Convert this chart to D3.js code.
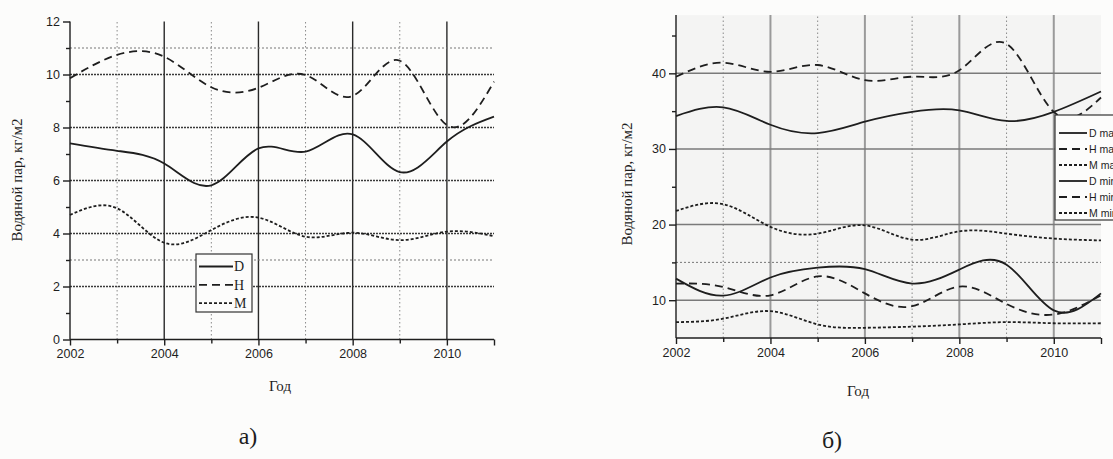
<!DOCTYPE html>
<html><head><meta charset="utf-8">
<script src="https://cdn.jsdelivr.net/npm/d3@7"></script>
<style>
html,body{margin:0;padding:0;background:#fcfcfb;}
svg{display:block;}
</style></head>
<body>
<svg id="chart" width="1113" height="459"></svg>
<script>
// ---------- data ----------
const years = [2002, 2003, 2004, 2005, 2006, 2007, 2008, 2009, 2010, 2011];
const xTickLabels = [2002, 2004, 2006, 2008, 2010];

// chart (a)
const aD = [7.40, 7.12, 6.64, 5.82, 7.21, 7.09, 7.74, 6.32, 7.47, 8.41];
const aH = [9.86, 10.74, 10.67, 9.52, 9.50, 9.98, 9.19, 10.52, 8.09, 9.73];
const aM = [4.70, 4.95, 3.65, 4.13, 4.60, 3.88, 4.03, 3.75, 4.07, 3.90];
const aYTicks = [0, 2, 4, 6, 8, 10, 12];
const aLegend = ["D", "H", "M"];

// chart (б)
const bDmax = [34.35, 35.5, 33.2, 32.1, 33.6, 34.9, 35.1, 33.7, 34.9, 37.6];
const bHmax = [39.55, 41.4, 40.2, 41.1, 39.1, 39.55, 40.4, 43.9, 34.9, 36.8];
const bMmax = [21.8, 22.7, 19.7, 18.8, 19.9, 18.0, 19.1, 18.8, 18.15, 17.9];
const bDmin = [12.85, 10.6, 13.0, 14.3, 14.1, 12.2, 14.05, 14.7, 8.65, 10.9];
const bHmin = [12.2, 11.75, 10.65, 13.15, 10.9, 9.2, 11.8, 9.5, 8.1, 10.65];
const bMmin = [7.1, 7.55, 8.55, 6.8, 6.35, 6.5, 6.8, 7.1, 6.95, 6.95];
const bYTicks = [10, 20, 30, 40];
const bLegend = ["D max", "H max", "M max", "D min", "H min", "M min"];

const yTitle = "Водяной пар, кг/м2";
const xTitle = "Год";

// ---------- styles ----------
const ink = "#1e1e1e";
const serif = "'Liberation Serif', 'DejaVu Serif', 'Times New Roman', serif";
const sans = "'Liberation Sans', Arial, 'DejaVu Sans', sans-serif";
const dashStyle = {solid: null, dash: "8,5", dot: "3,2"};

const svg = d3.select("#chart");

function drawPanel(cfg) {
  const g = svg.append("g");
  const x = d3.scaleLinear().domain([2002, 2011]).range(cfg.xr);
  const y = d3.scaleLinear().domain(cfg.yd).range(cfg.yr);
  const [x0, x1] = cfg.xr;
  const [yb, yt] = cfg.yr;

  if (cfg.bg) {
    g.append("rect").attr("x", x0).attr("y", yt).attr("width", x1 - x0).attr("height", yb - yt)
      .attr("fill", cfg.bg);
  }

  // gridlines - vertical
  const majorYears = [2004, 2006, 2008, 2010];
  const minorYears = [2003, 2005, 2007, 2009];
  g.selectAll(".vmaj").data(majorYears).enter().append("line")
    .attr("x1", d => x(d)).attr("x2", d => x(d))
    .attr("y1", yb).attr("y2", yt)
    .attr("stroke", cfg.vMajColor).attr("stroke-width", cfg.vMajW);
  g.selectAll(".vmin").data(minorYears).enter().append("line")
    .attr("x1", d => x(d)).attr("x2", d => x(d))
    .attr("y1", yb).attr("y2", yt)
    .attr("stroke", "#8a8a8a").attr("stroke-width", 1).attr("stroke-dasharray", "1.5,2.5");
  // gridlines - horizontal
  g.selectAll(".hmaj").data(cfg.hMajor).enter().append("line")
    .attr("x1", x0).attr("x2", x1)
    .attr("y1", d => y(d)).attr("y2", d => y(d))
    .attr("stroke", cfg.hMajColor).attr("stroke-width", cfg.hMajW)
    .attr("stroke-dasharray", cfg.hMajDash);
  g.selectAll(".hmin").data(cfg.hMinor).enter().append("line")
    .attr("x1", x0).attr("x2", x1)
    .attr("y1", d => y(d)).attr("y2", d => y(d))
    .attr("stroke", "#777").attr("stroke-width", 1).attr("stroke-dasharray", "2,2");

  // axes
  const yAxis = d3.axisLeft(y).tickValues(cfg.yTicks).tickSize(7).tickPadding(3).tickFormat(d3.format("d"));
  const ya = g.append("g").attr("transform", `translate(${x0},0)`).call(yAxis);
  ya.select(".domain").attr("d", `M0,${yb}V${yt}`);
  const yMinor = d3.axisLeft(y).tickValues(cfg.yMinorTicks).tickSize(4).tickFormat("");
  const ym = g.append("g").attr("transform", `translate(${x0},0)`).call(yMinor);
  ym.select(".domain").remove();

  const xAxis = d3.axisBottom(x).tickValues(xTickLabels.concat([2011])).tickSize(6).tickPadding(4)
    .tickFormat(d => xTickLabels.includes(d) ? d3.format("d")(d) : "");
  const xa = g.append("g").attr("transform", `translate(0,${yb})`).call(xAxis);
  const xMinor = d3.axisBottom(x).tickValues(minorYears).tickSize(4).tickFormat("");
  const xm = g.append("g").attr("transform", `translate(0,${yb})`).call(xMinor);
  xm.select(".domain").remove();
  xa.select(".domain").attr("d", `M${x0},0H${x1}`);

  [ya, ym, xa, xm].forEach(a => {
    a.selectAll("path,line").attr("stroke", ink).attr("stroke-width", 1.4);
    a.selectAll("text").attr("fill", ink).style("font-family", sans).attr("font-size", 12.5);
  });

  // series
  const line = d3.line().x((d, i) => x(years[i])).y(d => y(d)).curve(d3.curveNatural);
  cfg.series.forEach(s => {
    g.append("path").attr("d", line(s.values))
      .attr("fill", "none").attr("stroke", ink).attr("stroke-width", 1.8)
      .attr("stroke-dasharray", dashStyle[s.style]);
  });

  // titles
  g.append("text").attr("transform", `translate(${cfg.yTitlePos[0]},${cfg.yTitlePos[1]}) rotate(-90)`)
    .attr("text-anchor", "middle").style("font-family", serif)
    .attr("font-size", 15).attr("fill", ink).text(yTitle);
  g.append("text").attr("x", cfg.xTitlePos[0]).attr("y", cfg.xTitlePos[1])
    .attr("text-anchor", "middle").style("font-family", serif)
    .attr("font-size", 15).attr("fill", ink).text(xTitle);
  g.append("text").attr("x", cfg.capPos[0]).attr("y", cfg.capPos[1])
    .attr("text-anchor", "middle").style("font-family", serif)
    .attr("font-size", 24).attr("fill", ink).text(cfg.caption);

  // legend
  const L = cfg.legend;
  const lg = g.append("g").attr("transform", `translate(${L.x},${L.y})`);
  lg.append("rect").attr("width", L.w).attr("height", L.h)
    .attr("fill", "#fcfcfb").attr("stroke", "#333").attr("stroke-width", 1.2);
  L.items.forEach((name, i) => {
    const yy = L.first + i * L.step;
    lg.append("line").attr("x1", L.lx0).attr("x2", L.lx1).attr("y1", yy).attr("y2", yy)
      .attr("stroke", ink).attr("stroke-width", 1.8)
      .attr("stroke-dasharray", dashStyle[cfg.series[i].style]);
    lg.append("text").attr("x", L.tx).attr("y", yy).attr("dy", "0.35em")
      .style("font-family", L.font).attr("font-size", L.fs).attr("fill", ink).text(name);
  });
}

drawPanel({
  xr: [70, 494], yd: [0, 12], yr: [339.5, 21.5],
  yTicks: aYTicks, yMinorTicks: [1, 3, 5, 7, 9, 11],
  hMajor: [2, 4, 6, 8, 10], hMinor: [3, 11],
  hMajColor: "#3a3a3a", hMajW: 1.4, hMajDash: "2,1",
  vMajColor: "#2a2a2a", vMajW: 1.4,
  series: [{values: aD, style: "solid"}, {values: aH, style: "dash"}, {values: aM, style: "dot"}],
  yTitlePos: [22, 180], xTitlePos: [280, 391], capPos: [248, 444], caption: "а)",
  legend: {x: 196, y: 254, w: 56, h: 58, items: aLegend, first: 12.5, step: 18.3,
           lx0: 3, lx1: 37, tx: 38, font: serif, fs: 14}
});

drawPanel({
  xr: [676, 1101], yd: [5, 47.7], yr: [338, 15.1], bg: "#f4f4f3",
  yTicks: bYTicks, yMinorTicks: [15, 25, 35, 45],
  hMajor: [10, 20, 30, 40], hMinor: [15],
  hMajColor: "#7a7a7a", hMajW: 1.5, hMajDash: null,
  vMajColor: "#9a9a9a", vMajW: 2,
  series: [{values: bDmax, style: "solid"}, {values: bHmax, style: "dash"}, {values: bMmax, style: "dot"},
           {values: bDmin, style: "solid"}, {values: bHmin, style: "dash"}, {values: bMmin, style: "dot"}],
  yTitlePos: [632, 184], xTitlePos: [858, 396], capPos: [832, 448], caption: "б)",
  legend: {x: 1055, y: 115, w: 80, h: 105, items: bLegend, first: 18, step: 16,
           lx0: 4, lx1: 32, tx: 34, font: sans, fs: 10.5}
});
</script>
</body></html>
